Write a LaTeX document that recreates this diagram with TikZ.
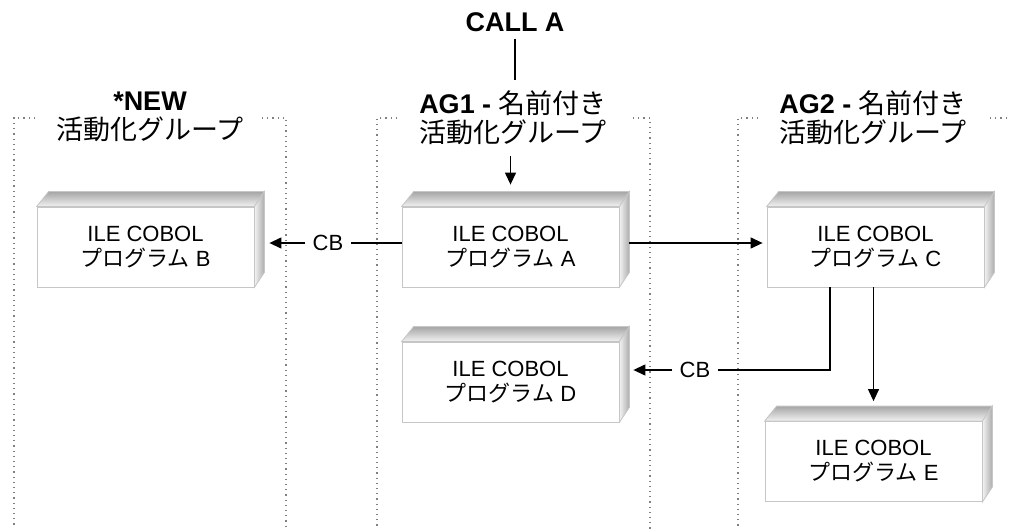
\documentclass[tikz,border=0pt]{standalone}
\usepackage{fontspec}
\setmainfont{Liberation Sans}
\newfontfamily\jpfont{Noto Sans CJK JP}
\newcommand{\jtext}[1]{{\jpfont #1}}
\usetikzlibrary{arrows.meta}

\begin{document}
\begin{tikzpicture}[x=0.5pt, y=-0.5pt,
	prog/.style={draw=gray!45, fill=white, minimum width=108.5pt, minimum height=40pt, inner sep=0pt, align=center, font=\fontsize{11}{12.5}\selectfont},
	hdr/.style={align=center, font=\fontsize{13.5}{14.5}\selectfont},
	lbl/.style={font=\fontsize{11}{12}\selectfont, inner sep=3.5pt},
	wire/.style={line width=0.6pt},
	arr/.style={wire, -{Triangle[length=6pt, width=5.5pt]}},
	grp/.style={dotted, gray, line width=0.6pt}]
	\useasboundingbox (0,0) rectangle (1010,529);
	
	%activation groups
	\draw[grp] (35,118) -- (14,118) -- (14,529);
	\draw[grp] (262,118) -- (286,118) -- (286,529);
	\draw[grp] (397,118) -- (377,118) -- (377,529);
	\draw[grp] (633,118) -- (650,118) -- (650,529);
	\draw[grp] (758,118) -- (738,118) -- (738,529);
	\draw[grp] (990,118) -- (1010,118);
	
	\node[hdr] (callA) at (515,22) {\textbf{CALL A}};
	\node[hdr] (newhd) at (150,117) {\textbf{*NEW}\\\jtext{活動化グループ}};
	\node[hdr] (ag1hd) at (513,118) {\textbf{AG1 -} \jtext{名前付き}\\\jtext{活動化グループ}};
	\node[hdr] (ag2hd) at (873,118) {\textbf{AG2 -} \jtext{名前付き}\\\jtext{活動化グループ}};
	
	%programs
	\node[prog] (A) at (510.5,247) {ILE COBOL\\\jtext{プログラム} A};
	\node[prog] (B) at (145.5,247) {ILE COBOL\\\jtext{プログラム} B};
	\node[prog] (C) at (875.5,247) {ILE COBOL\\\jtext{プログラム} C};
	\node[prog] (D) at (510.5,382) {ILE COBOL\\\jtext{プログラム} D};
	\node[prog] (E) at (873.5,461.5) {ILE COBOL\\\jtext{プログラム} E};
	
	\foreach \p in {A,B,C,D,E}{
		\draw[gray!45, top color=gray!70, bottom color=gray!10] (\p.north west) -- ++(12,-15) -- ([shift={(10,-15)}]\p.north east) -- (\p.north east) -- cycle;
		\draw[gray!45, left color=gray!10, right color=gray!65] (\p.north east) -- ++(10,-15) -- ([shift={(10,-15)}]\p.south east) -- (\p.south east) -- cycle;
	}
	
	%calls
	\draw[wire, shorten >=2pt] (callA.south) -- (callA.south |- ag1hd.north);
	\draw[arr, shorten <=2pt, shorten >=11pt] (A.north |- ag1hd.south) -- (A.north);
	
	\node[lbl] (cb1) at (328,243) {CB};
	\draw[wire] (A.west |- cb1) -- (cb1);
	\draw[arr, shorten >=7.5pt] (cb1) -- (B.east |- cb1);
	\draw[arr, shorten <=5pt, shorten >=2pt] (A.east |- cb1) -- (C.west |- cb1);
	
	\node[lbl] (cb2) at (695,370) {CB};
	\draw[wire] ([xshift=-22.75pt]C.south) |- (cb2);
	\draw[arr, shorten >=7pt] (cb2) -- (D.east |- cb2);
	\draw[arr, shorten >=10pt] (C.south -| E.north) -- (E.north);
\end{tikzpicture}
\end{document}
